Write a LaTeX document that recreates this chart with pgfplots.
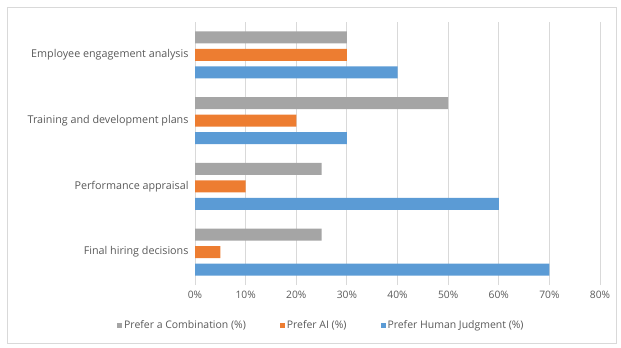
\documentclass[border=0pt]{standalone}
\usepackage{fontspec}
\setmainfont{Open Sans}
\usepackage{pgfplots}
\pgfplotsset{compat=1.18}
\definecolor{cgray}{HTML}{A5A5A5}
\definecolor{corange}{HTML}{ED7D31}
\definecolor{cblue}{HTML}{5B9BD5}
\definecolor{ctext}{HTML}{595959}
\definecolor{cgrid}{HTML}{D9D9D9}
\begin{document}
\begin{tikzpicture}
\draw[cgrid, line width=0.8bp] (7bp,5bp) rectangle (616bp,341bp);
\useasboundingbox (0,0) rectangle (621bp,348bp);
\begin{axis}[
  at={(195bp,63bp)}, anchor=south west,
  scale only axis, width=405bp, height=263bp,
  xmin=0, xmax=80, ymin=-0.5, ymax=3.5,
  xtick={0,10,...,80},
  xticklabel={\pgfmathprintnumber{\tick}\%},
  /pgf/number format/assume math mode=true,
  ytick={0,1,2,3},
  yticklabels={Final hiring decisions, Performance appraisal, Training and development plans, Employee engagement analysis},
  xmajorgrids, major grid style={cgrid, line width=0.8bp},
  axis x line*=bottom, x axis line style={draw=none},
  axis y line*=left, y axis line style={draw=none},
  yticklabel style={font=\fontsize{10.8}{12}\selectfont, text=ctext, xshift=-3bp},
  xticklabel style={font=\fontsize{10.3}{12}\selectfont, text=ctext, yshift=-3bp},
  major tick length=0pt,
  xbar, bar width=12bp,
  legend style={at={(0.312,-0.152)}, anchor=center, draw=none, legend columns=3,
    font=\fontsize{10.5}{12}\selectfont, text=ctext},
  legend image code/.code={\fill[#1] (2bp,-3bp) rectangle (7bp,2bp);},
  clip=false,
]
\addplot[draw=none, fill=cgray, bar shift=17.5bp] coordinates {(25,0) (25,1) (50,2) (30,3)};
\addlegendentry{Prefer a Combination (\%)\rule{32bp}{0pt}}
\addplot[draw=none, fill=corange, bar shift=0bp] coordinates {(5,0) (10,1) (20,2) (30,3)};
\addlegendentry{Prefer AI (\%)\rule{32bp}{0pt}}
\addplot[draw=none, fill=cblue, bar shift=-17.5bp] coordinates {(70,0) (60,1) (30,2) (40,3)};
\addlegendentry{Prefer Human Judgment (\%)}
\end{axis}
\end{tikzpicture}
\end{document}
